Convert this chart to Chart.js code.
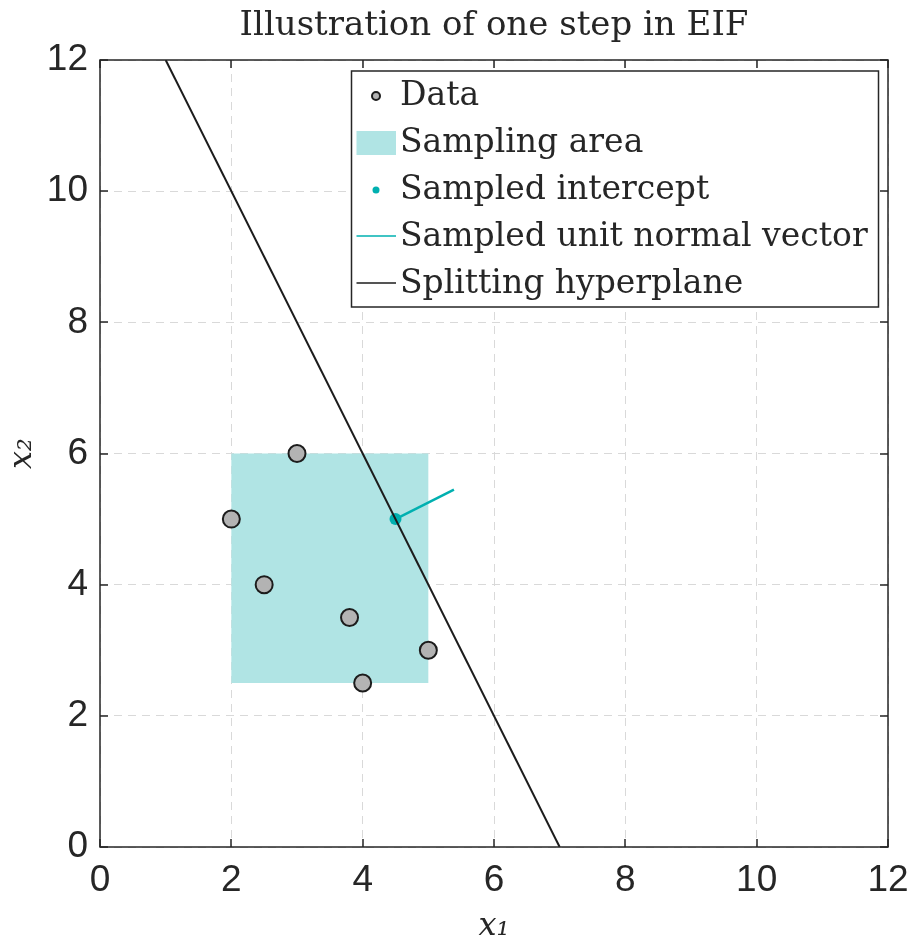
<!DOCTYPE html>
<html>
<head>
<meta charset="utf-8">
<script src="https://cdn.jsdelivr.net/npm/chart.js@4"></script>
<style>
  html, body { margin: 0; padding: 0; background: #fff; }
  canvas { display: block; }
</style>
</head>
<body>
<canvas id="chart" width="911" height="947"></canvas>
<script>
// data points (x1, x2)
const dataX1 = [2, 2.5, 3, 3.8, 4, 5];
const dataX2 = [5, 4, 6, 3.5, 2.5, 3];
// corners of the sampling area
const areaX1 = [2, 5, 5, 2, 2];
const areaX2 = [2.5, 2.5, 6, 6, 2.5];
// sampled intercept and unit normal vector
const interceptX1 = [4.5];
const interceptX2 = [5];
const normalX1 = [4.5, 5.39];
const normalX2 = [5, 5.45];
// splitting hyperplane
const planeX1 = [1, 7];
const planeX2 = [12, 0];
const axisTicks = [0, 2, 4, 6, 8, 10, 12];

const titleText = 'Illustration of one step in EIF';

const toPoints = (xs, ys) => xs.map((x, i) => ({ x: x, y: ys[i] }));

const INK = '#262626';
const TEAL = '#00b0b0';
const AREA = '#b0e4e4';
const GRAY = '#b3b3b3';
const SERIF = '"DejaVu Serif", serif';

// box, inner ticks and title
const framePlugin = {
  id: 'frame',
  afterDraw(chart) {
    const { ctx, chartArea: a, scales } = chart;
    ctx.save();
    ctx.strokeStyle = INK;
    ctx.lineWidth = 1.5;
    ctx.beginPath();
    axisTicks.forEach(v => {
      const px = Math.round(scales.x.getPixelForValue(v));
      const py = Math.round(scales.y.getPixelForValue(v));
      ctx.moveTo(px, a.bottom); ctx.lineTo(px, a.bottom - 8);
      ctx.moveTo(px, a.top); ctx.lineTo(px, a.top + 8);
      ctx.moveTo(a.left, py); ctx.lineTo(a.left + 8, py);
      ctx.moveTo(a.right, py); ctx.lineTo(a.right - 8, py);
    });
    ctx.stroke();
    ctx.strokeRect(a.left, a.top, a.right - a.left, a.bottom - a.top);

    ctx.fillStyle = INK;
    ctx.font = '34px ' + SERIF;
    ctx.textAlign = 'center';
    ctx.textBaseline = 'alphabetic';
    ctx.fillText(titleText, (a.left + a.right) / 2, 35);
    ctx.restore();
  }
};

// legend box in the upper right corner
const legendPlugin = {
  id: 'boxLegend',
  afterDraw(chart) {
    const ctx = chart.ctx;
    const left = 351.5, top = 71, right = 878.5, bottom = 307;
    ctx.save();
    ctx.fillStyle = '#fff';
    ctx.fillRect(left, top, right - left, bottom - top);
    ctx.strokeStyle = INK;
    ctx.lineWidth = 1.5;
    ctx.strokeRect(left, top, right - left, bottom - top);

    chart.data.datasets.forEach((ds, i) => {
      const base = 105 + 47 * i;
      const y = base - 10;
      ctx.save();
      if (ds.legendKind === 'marker') {
        ctx.beginPath();
        ctx.arc(376, y + 1, 4, 0, Math.PI * 2);
        ctx.fillStyle = ds.backgroundColor;
        ctx.fill();
        ctx.lineWidth = 2;
        ctx.strokeStyle = ds.borderColor;
        ctx.stroke();
      } else if (ds.legendKind === 'patch') {
        ctx.fillStyle = ds.backgroundColor;
        ctx.fillRect(356.5, y - 11, 39.5, 24);
      } else if (ds.legendKind === 'dot') {
        ctx.beginPath();
        ctx.arc(376, y + 1, 3.5, 0, Math.PI * 2);
        ctx.fillStyle = ds.backgroundColor;
        ctx.fill();
      } else {
        ctx.beginPath();
        ctx.moveTo(356.5, y);
        ctx.lineTo(396, y);
        ctx.lineWidth = 1.5;
        ctx.strokeStyle = ds.borderColor;
        ctx.stroke();
      }
      ctx.restore();
      ctx.fillStyle = INK;
      ctx.font = '33px ' + SERIF;
      ctx.textBaseline = 'alphabetic';
      ctx.fillText(ds.label, 400, base);
    });
    ctx.restore();
  }
};

const axisCommon = {
  type: 'linear',
  min: 0,
  max: 12,
  afterBuildTicks: s => { s.ticks = axisTicks.map(v => ({ value: v })); },
  ticks: {
    color: INK,
    font: { family: '"Liberation Sans", Arial, sans-serif', size: 37 }
  },
  grid: { color: '#d9d9d9', lineWidth: 1, drawTicks: false },
  border: { display: false, dash: [8, 6] }
};

new Chart(document.getElementById('chart'), {
  type: 'scatter',
  data: {
    datasets: [
      {
        label: 'Data',
        legendKind: 'marker',
        data: toPoints(dataX1, dataX2),
        backgroundColor: GRAY,
        borderColor: '#1c1c1c',
        borderWidth: 2,
        pointRadius: 8.5,
        order: 4
      },
      {
        label: 'Sampling area',
        legendKind: 'patch',
        data: toPoints(areaX1, areaX2),
        showLine: true,
        fill: 'shape',
        backgroundColor: AREA,
        borderWidth: 0,
        pointRadius: 0,
        order: 5
      },
      {
        label: 'Sampled intercept',
        legendKind: 'dot',
        data: toPoints(interceptX1, interceptX2),
        backgroundColor: TEAL,
        borderWidth: 0,
        pointRadius: 6,
        order: 2
      },
      {
        label: 'Sampled unit normal vector',
        legendKind: 'line',
        data: toPoints(normalX1, normalX2),
        showLine: true,
        borderColor: TEAL,
        borderWidth: 2.5,
        pointRadius: 0,
        order: 3
      },
      {
        label: 'Splitting hyperplane',
        legendKind: 'line',
        data: toPoints(planeX1, planeX2),
        showLine: true,
        borderColor: '#1c1c1c',
        borderWidth: 2,
        pointRadius: 0,
        order: 1
      }
    ]
  },
  options: {
    responsive: false,
    animation: false,
    devicePixelRatio: 1,
    events: [],
    layout: { padding: { left: 0, right: 23, top: 60, bottom: 0 } },
    plugins: {
      legend: { display: false },
      tooltip: { enabled: false }
    },
    scales: {
      x: {
        ...axisCommon,
        position: 'bottom',
        afterFit: s => { s.height = 100; s.paddingRight = 0; s.paddingLeft = 0; },
        ticks: { ...axisCommon.ticks, padding: 12, maxRotation: 0 },
        title: {
          display: true,
          text: 'x₁',
          color: INK,
          font: { family: SERIF, style: 'italic', size: 32 },
          padding: { top: 0, bottom: 1 }
        }
      },
      y: {
        ...axisCommon,
        position: 'left',
        afterFit: s => { s.width = 100; s.paddingTop = 0; s.paddingBottom = 0; },
        ticks: { ...axisCommon.ticks, padding: 12 },
        title: {
          display: true,
          text: 'x₂',
          color: INK,
          font: { family: SERIF, style: 'italic', size: 32 },
          padding: { top: 3, bottom: 0 }
        }
      }
    }
  },
  plugins: [framePlugin, legendPlugin]
});
</script>
</body>
</html>
